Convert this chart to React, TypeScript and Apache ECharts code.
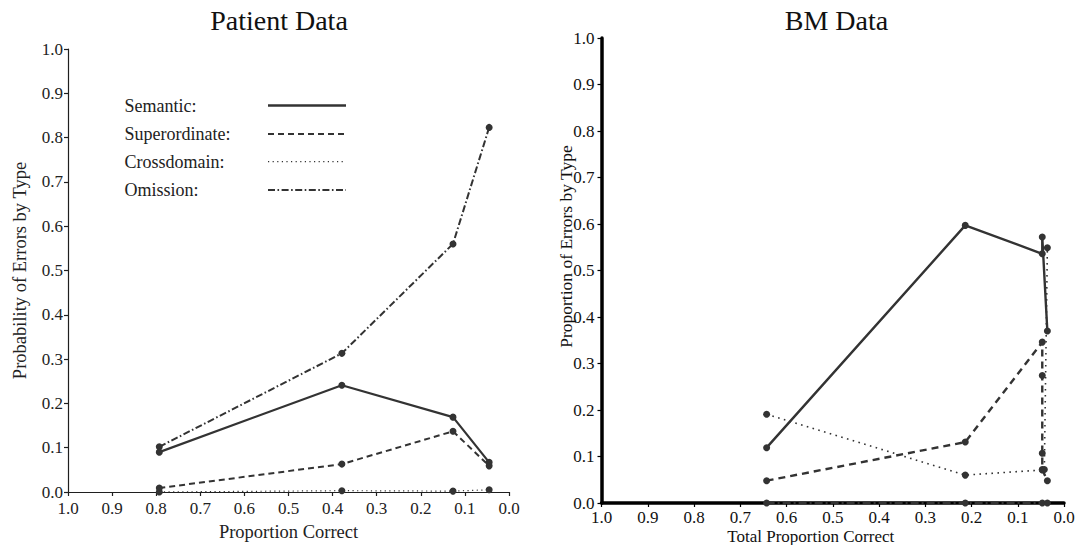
import React, { useEffect, useRef } from "react";
import * as echarts from "echarts";

const FONT = '"Liberation Serif", "Times New Roman", serif';
const INK = "#333333";
const AXIS = "#1f1f1f";

// Patient data: proportion correct per session and error probabilities by type
const patientCorrect = [0.793, 0.379, 0.127, 0.045];
const patientSemantic = [0.09, 0.241, 0.169, 0.067];
const patientSuperordinate = [0.009, 0.063, 0.137, 0.059];
const patientCrossdomain = [0.0, 0.003, 0.002, 0.005];
const patientOmission = [0.102, 0.313, 0.56, 0.823];

// BM data: [total proportion correct, proportion of errors] per session
const bmSemantic = [
  [0.643, 0.119],
  [0.2135, 0.597],
  [0.047, 0.536],
  [0.047, 0.572],
  [0.036, 0.37],
];
const bmSuperordinate = [
  [0.643, 0.048],
  [0.2135, 0.131],
  [0.047, 0.346],
  [0.047, 0.274],
  [0.047, 0.107],
  [0.047, 0.072],
  [0.036, 0.048],
];
const bmCrossdomain = [
  [0.643, 0.191],
  [0.2135, 0.06],
  [0.047, 0.071],
  [0.0425, 0.072],
  [0.036, 0.549],
];
const bmOmission = [
  [0.643, 0],
  [0.2135, 0],
  [0.047, 0],
  [0.036, 0],
];

const errorTypes = ["Semantic", "Superordinate", "Crossdomain", "Omission"];

const patientStyles: Record<string, { width: number; type: any }> = {
  Semantic: { width: 2.2, type: "solid" },
  Superordinate: { width: 2, type: [6, 4] },
  Crossdomain: { width: 1.2, type: [1.2, 3.4] },
  Omission: { width: 2, type: [7, 2.5, 1.6, 2.5] },
};

const bmStyles: Record<string, { width: number; type: any }> = {
  Semantic: { width: 2.4, type: "solid" },
  Superordinate: { width: 2.4, type: [7, 5] },
  Crossdomain: { width: 1.6, type: [1.6, 4.4] },
  Omission: { width: 2.4, type: [8, 3, 2, 3] },
};

const fmt = (v: number) => v.toFixed(1);

function buildOption() {
  const patientValues: Record<string, number[]> = {
    Semantic: patientSemantic,
    Superordinate: patientSuperordinate,
    Crossdomain: patientCrossdomain,
    Omission: patientOmission,
  };
  const bmValues: Record<string, number[][]> = {
    Semantic: bmSemantic,
    Superordinate: bmSuperordinate,
    Crossdomain: bmCrossdomain,
    Omission: bmOmission,
  };

  const patientSeries = errorTypes.map((name) => ({
    name,
    type: "line",
    xAxisIndex: 0,
    yAxisIndex: 0,
    data: patientCorrect.map((x, i) => [x, patientValues[name][i]]),
    symbol: "circle",
    symbolSize: 7,
    showSymbol: true,
    itemStyle: { color: INK },
    lineStyle: { color: INK, width: patientStyles[name].width, type: patientStyles[name].type },
    z: name === "Crossdomain" ? 1 : 2,
  }));

  const bmSeries = errorTypes.map((name) => ({
    name: "BM " + name,
    type: "line",
    xAxisIndex: 1,
    yAxisIndex: 1,
    data: bmValues[name],
    symbol: "circle",
    symbolSize: 7,
    showSymbol: true,
    itemStyle: { color: INK },
    lineStyle: { color: INK, width: bmStyles[name].width, type: bmStyles[name].type },
  }));

  // Key inside the patient panel: label text followed by a line sample
  const keyRows = [105.5, 134, 161.6, 190];
  const keyGraphics: any[] = [];
  errorTypes.forEach((name, i) => {
    keyGraphics.push({
      type: "text",
      x: 124.5,
      y: keyRows[i],
      style: {
        text: name + ":",
        fill: "#222",
        font: `18px ${FONT}`,
        verticalAlign: "middle",
        align: "left",
      },
    });
    const st = patientStyles[name];
    keyGraphics.push({
      type: "line",
      shape: { x1: 268, y1: keyRows[i], x2: 346, y2: keyRows[i] },
      style: {
        stroke: INK,
        lineWidth: name === "Semantic" ? 2.4 : st.width,
        lineDash: Array.isArray(st.type) ? st.type : null,
      },
    });
  });

  const leftAxisText = { fontFamily: FONT, fontSize: 17, color: "#222" };
  const rightAxisText = { fontFamily: FONT, fontSize: 17, color: "#111" };

  return {
    animation: false,
    backgroundColor: "#ffffff",
    title: [
      {
        text: "Patient Data",
        left: 274,
        top: 1,
        textAlign: "center",
        textStyle: { fontFamily: FONT, fontSize: 28, fontWeight: "normal", color: "#111" },
      },
      {
        text: "BM Data",
        left: 831.5,
        top: 1,
        textAlign: "center",
        textStyle: { fontFamily: FONT, fontSize: 28, fontWeight: "normal", color: "#111" },
      },
    ],
    grid: [
      { left: 68, top: 49, width: 441, height: 443, containLabel: false, outerBoundsMode: "none" },
      { left: 601.5, top: 38, width: 462.5, height: 465, containLabel: false, outerBoundsMode: "none" },
    ],
    xAxis: [
      {
        type: "value",
        gridIndex: 0,
        min: 0,
        max: 1,
        interval: 0.1,
        inverse: true,
        axisLine: { show: true, lineStyle: { color: AXIS, width: 1.2 } },
        axisTick: { show: true, inside: false, length: 4, lineStyle: { color: AXIS, width: 1.2 } },
        axisLabel: { ...leftAxisText, margin: 8, formatter: fmt },
        splitLine: { show: false },
        name: "Proportion Correct",
        nameLocation: "middle",
        nameGap: 30,
        nameTextStyle: { fontFamily: FONT, fontSize: 18.5, color: "#222" },
      },
      {
        type: "value",
        gridIndex: 1,
        min: 0,
        max: 1,
        interval: 0.1,
        inverse: true,
        axisLine: { show: true, lineStyle: { color: "#000", width: 3.5 } },
        axisTick: { show: true, inside: false, length: 4, lineStyle: { color: "#000", width: 1.2 } },
        axisLabel: { ...rightAxisText, margin: 6, formatter: fmt },
        splitLine: { show: false },
        name: "Total Proportion Correct",
        nameLocation: "middle",
        nameGap: 25,
        nameMoveOverlap: false,
        nameTextStyle: { fontFamily: FONT, fontSize: 17, color: "#111", padding: [0, 44, 0, 0] },
      },
    ],
    yAxis: [
      {
        type: "value",
        gridIndex: 0,
        min: 0,
        max: 1,
        interval: 0.1,
        axisLine: { show: true, onZero: false, lineStyle: { color: AXIS, width: 1.2 } },
        axisTick: { show: true, inside: false, length: 4, lineStyle: { color: AXIS, width: 1.2 } },
        axisLabel: { ...leftAxisText, margin: 5, formatter: fmt },
        splitLine: { show: false },
        name: "Probability of Errors by Type",
        nameLocation: "middle",
        nameRotate: 90,
        nameGap: 39,
        nameTextStyle: { fontFamily: FONT, fontSize: 18.5, color: "#222" },
      },
      {
        type: "value",
        gridIndex: 1,
        min: 0,
        max: 1,
        interval: 0.1,
        axisLine: { show: true, onZero: false, lineStyle: { color: "#000", width: 3.5 } },
        axisTick: { show: true, inside: false, length: 4, lineStyle: { color: "#000", width: 1.2 } },
        axisLabel: { ...rightAxisText, margin: 7, formatter: fmt },
        splitLine: { show: false },
        name: "Proportion of Errors by Type",
        nameLocation: "middle",
        nameRotate: 90,
        nameGap: 27,
        nameMoveOverlap: false,
        nameTextStyle: { fontFamily: FONT, fontSize: 17.5, color: "#111", padding: [0, 0, 0, 48] },
      },
    ],
    graphic: keyGraphics,
    series: [...patientSeries, ...bmSeries],
  };
}

export default function App() {
  const ref = useRef<HTMLDivElement>(null);

  useEffect(() => {
    if (!ref.current) return;
    const chart = echarts.init(ref.current, null, { renderer: "svg" });
    chart.setOption(buildOption() as any);
    return () => chart.dispose();
  }, []);

  return (
    <div
      ref={ref}
      style={{ position: "fixed", left: 0, top: 0, width: 1083, height: 545, background: "#fff" }}
    />
  );
}
